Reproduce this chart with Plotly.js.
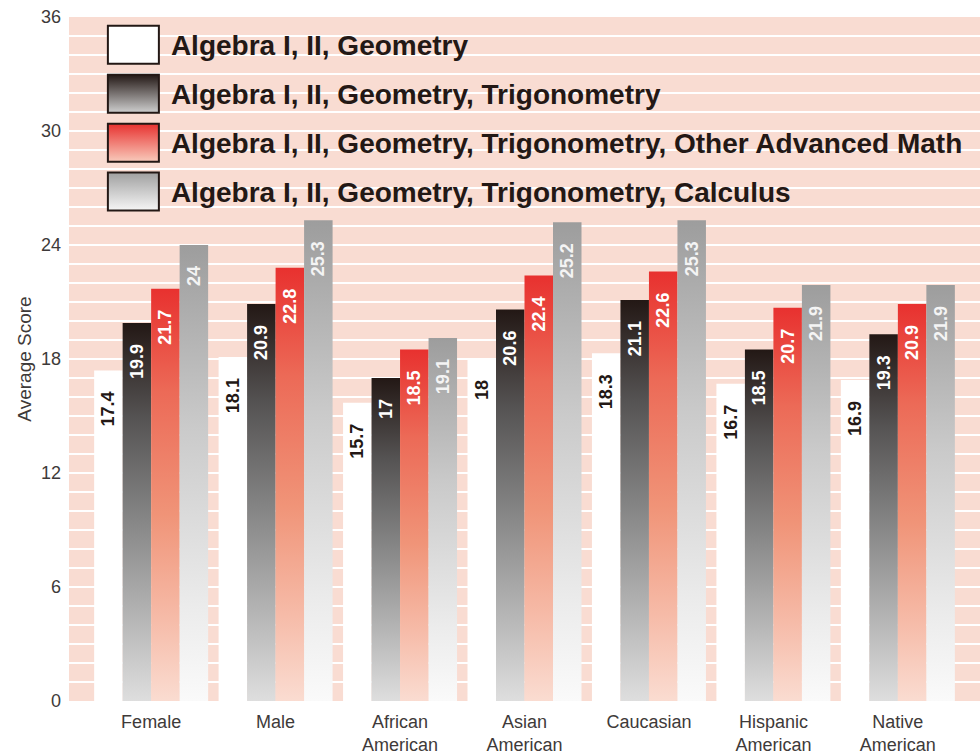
<!DOCTYPE html>
<html><head><meta charset="utf-8">
<script src="https://cdn.plot.ly/plotly-3.0.1.min.js"></script>
<style>html,body{margin:0;padding:0;background:#fff}#chart{width:980px;height:754px}</style>
</head><body><div id="chart"></div>
<script>
const categories = ['Female', 'Male', 'African<br>American', 'Asian<br>American', 'Caucasian', 'Hispanic<br>American', 'Native<br>American'];
const seriesNames = [
  'Algebra I, II, Geometry',
  'Algebra I, II, Geometry, Trigonometry',
  'Algebra I, II, Geometry, Trigonometry, Other Advanced Math',
  'Algebra I, II, Geometry, Trigonometry, Calculus'
];
const geometryScores = [17.4, 18.1, 15.7, 18, 18.3, 16.7, 16.9];
const trigonometryScores = [19.9, 20.9, 17, 20.6, 21.1, 18.5, 19.3];
const otherAdvancedScores = [21.7, 22.8, 18.5, 22.4, 22.6, 20.7, 20.9];
const calculusScores = [24, 25.3, 19.1, 25.2, 25.3, 21.9, 21.9];
const yTickVals = [0, 6, 12, 18, 24, 30, 36];

const FONT = 'Liberation Sans, Arial, Helvetica, sans-serif';
const seriesValues = [geometryScores, trigonometryScores, otherAdvancedScores, calculusScores];
const baseColors = ['#ffffff', '#4a4747', '#ec6a55', '#c4c4c4'];
const labelColors = ['#231815', '#ffffff', '#ffffff', '#f4f4f4'];

const traces = seriesValues.map((vals, i) => ({
  type: 'bar',
  name: seriesNames[i],
  x: categories,
  y: vals,
  legendgroup: 'g' + i,
  marker: {color: baseColors[i], line: {width: 0}},
  text: vals.map(v => String(v) + '\u2002\u2002'),
  textposition: 'inside',
  insidetextanchor: 'end',
  textangle: -90,
  constraintext: 'none',
  textfont: {family: FONT, size: 18, weight: 'bold', color: labelColors[i]},
  hoverinfo: 'none'
}));

const layout = {
  width: 980, height: 754,
  margin: {l: 69, r: 0, t: 17, b: 53, pad: 0},
  paper_bgcolor: '#ffffff',
  plot_bgcolor: '#f9dcd2',
  barmode: 'group',
  bargap: 0.084,
  bargroupgap: 0,
  font: {family: FONT, color: '#3e3a39'},
  xaxis: {
    range: [-0.66, 6.66], showgrid: false, zeroline: false, showline: false,
    ticks: '', tickangle: 0, ticklabelstandoff: 8,
    tickfont: {family: FONT, size: 18, color: '#3e3a39'}
  },
  yaxis: {
    range: [0, 36], tickmode: 'array', tickvals: yTickVals,
    showgrid: true, gridcolor: '#ffffff', gridwidth: 1.6,
    minor: {dtick: 1, tick0: 0, showgrid: true, gridcolor: '#ffffff', gridwidth: 1.6},
    zeroline: false, showline: false, ticks: '', ticklabelstandoff: 7,
    tickfont: {family: FONT, size: 18, color: '#3e3a39'},
    title: {text: 'Average Score', font: {family: FONT, size: 19, color: '#3e3a39'}, standoff: 4}
  },
  showlegend: true,
  legend: {
    x: 0.035, y: 0.996, xanchor: 'left', yanchor: 'top',
    bgcolor: 'rgba(0,0,0,0)', borderwidth: 0,
    font: {family: FONT, size: 28, weight: 'bold', color: '#231815'},
    itemwidth: 60, tracegroupgap: 9.5, traceorder: 'grouped'
  }
};

const barStops = [
  [[0, '#ffffff'], [1, '#ffffff']],
  [[0, '#231815'], [0.25, '#555353'], [0.5, '#828282'], [0.8, '#b9b9b9'], [1, '#dedede']],
  [[0, '#e8312f'], [0.25, '#ec6a57'], [0.55, '#f09478'], [0.8, '#f6bba8'], [1, '#fadcd1']],
  [[0, '#9d9d9d'], [0.4, '#cacaca'], [0.8, '#ececec'], [1, '#fafafa']]
];
const legendStops = [
  [[0, '#ffffff'], [1, '#ffffff']],
  [[0, '#231815'], [1, '#cfcfcf']],
  [[0, '#e8312f'], [1, '#f8cabb']],
  [[0, '#a0a0a0'], [1, '#f6f6f6']]
];

const NS = 'http://www.w3.org/2000/svg';
function makeGrad(defs, id, stops) {
  const g = document.createElementNS(NS, 'linearGradient');
  g.setAttribute('id', id);
  g.setAttribute('x1', '0'); g.setAttribute('y1', '0');
  g.setAttribute('x2', '0'); g.setAttribute('y2', '1');
  stops.forEach(([o, c]) => {
    const s = document.createElementNS(NS, 'stop');
    s.setAttribute('offset', o);
    s.setAttribute('stop-color', c);
    g.appendChild(s);
  });
  defs.appendChild(g);
}

function applyStyles(gd) {
  const svg = gd.querySelector('svg.main-svg');
  let defs = svg.querySelector('defs#customGrads');
  if (!defs) {
    defs = document.createElementNS(NS, 'defs');
    defs.setAttribute('id', 'customGrads');
    svg.insertBefore(defs, svg.firstChild);
    barStops.forEach((st, i) => makeGrad(defs, 'barGrad' + i, st));
    legendStops.forEach((st, i) => makeGrad(defs, 'legGrad' + i, st));
  }
  gd.querySelectorAll('.barlayer .trace.bars').forEach((tr, i) => {
    tr.querySelectorAll('.point path').forEach(p => { p.style.fill = 'url(#barGrad' + i + ')'; });
  });
  gd.querySelectorAll('.legend .scrollbox').forEach(s => s.removeAttribute('clip-path'));
  gd.querySelectorAll('.legend').forEach(s => s.removeAttribute('clip-path'));
  gd.querySelectorAll('.legend .traces').forEach((item, i) => {
    const path = item.querySelector('.legendpoints path');
    const text = item.querySelector('text.legendtext');
    if (!path || !text) return;
    const tr = text.getBoundingClientRect();
    const ctm = path.getScreenCTM();
    const cy = tr.top + tr.height * 0.5 - 1;
    const right = tr.left - 12;
    const l = right - 51 - ctm.e;
    const t = cy - 19 - ctm.f;
    path.setAttribute('d', `M${l},${t}h51v38h-51Z`);
    path.style.fill = 'url(#legGrad' + i + ')';
    path.style.stroke = '#231815';
    path.style.strokeWidth = '2px';
    path.style.fillOpacity = '1';
    path.style.strokeOpacity = '1';
  });
}

const gd = document.getElementById('chart');
Plotly.newPlot(gd, traces, layout, {staticPlot: true, displayModeBar: false}).then(() => applyStyles(gd));
</script>
</body></html>
